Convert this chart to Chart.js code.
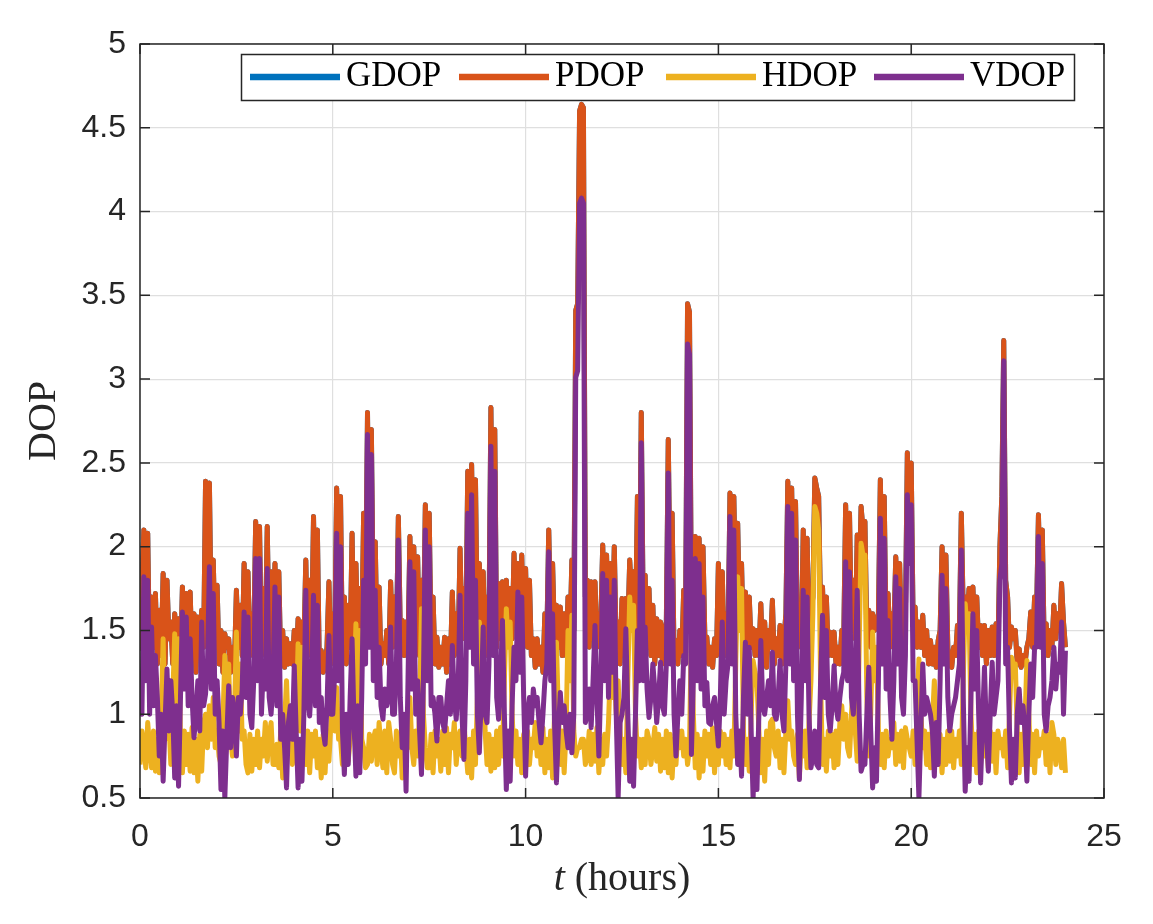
<!DOCTYPE html>
<html>
<head>
<meta charset="utf-8">
<script src="https://cdn.jsdelivr.net/npm/chart.js@4/dist/chart.umd.min.js"></script>
<style>
html,body{margin:0;padding:0;background:#fff;}
canvas{display:block;}
</style>
</head>
<body>
<canvas id="c" width="1153" height="924"></canvas>
<script>
// ---------- data ----------
const hours = [
0,0.05,0.1,0.15,0.2,0.25,0.3,0.35,0.4,0.45,0.5,0.55,0.6,0.65,0.7,0.75,0.8,0.85,0.9,0.95,
1,1.05,1.1,1.15,1.2,1.25,1.3,1.35,1.4,1.45,1.5,1.55,1.6,1.65,1.7,1.75,1.8,1.85,1.9,1.95,
2,2.05,2.1,2.15,2.2,2.25,2.3,2.35,2.4,2.45,2.5,2.55,2.6,2.65,2.7,2.75,2.8,2.85,2.9,2.95,
3,3.05,3.1,3.15,3.2,3.25,3.3,3.35,3.4,3.45,3.5,3.55,3.6,3.65,3.7,3.75,3.8,3.85,3.9,3.95,
4,4.05,4.1,4.15,4.2,4.25,4.3,4.35,4.4,4.45,4.5,4.55,4.6,4.65,4.7,4.75,4.8,4.85,4.9,4.95,
5,5.05,5.1,5.15,5.2,5.25,5.3,5.35,5.4,5.45,5.5,5.55,5.6,5.65,5.7,5.75,5.8,5.85,5.9,5.95,
6,6.05,6.1,6.15,6.2,6.25,6.3,6.35,6.4,6.45,6.5,6.55,6.6,6.65,6.7,6.75,6.8,6.85,6.9,6.95,
7,7.05,7.1,7.15,7.2,7.25,7.3,7.35,7.4,7.45,7.5,7.55,7.6,7.65,7.7,7.75,7.8,7.85,7.9,7.95,
8,8.05,8.1,8.15,8.2,8.25,8.3,8.35,8.4,8.45,8.5,8.55,8.6,8.65,8.7,8.75,8.8,8.85,8.9,8.95,
9,9.05,9.1,9.15,9.2,9.25,9.3,9.35,9.4,9.45,9.5,9.55,9.6,9.65,9.7,9.75,9.8,9.85,9.9,9.95,
10,10.05,10.1,10.15,10.2,10.25,10.3,10.35,10.4,10.45,10.5,10.55,10.6,10.65,10.7,10.75,10.8,10.85,10.9,10.95,
11,11.05,11.1,11.15,11.2,11.25,11.3,11.35,11.4,11.45,11.5,11.55,11.6,11.65,11.7,11.75,11.8,11.85,11.9,11.95,
12,12.05,12.1,12.15,12.2,12.25,12.3,12.35,12.4,12.45,12.5,12.55,12.6,12.65,12.7,12.75,12.8,12.85,12.9,12.95,
13,13.05,13.1,13.15,13.2,13.25,13.3,13.35,13.4,13.45,13.5,13.55,13.6,13.65,13.7,13.75,13.8,13.85,13.9,13.95,
14,14.05,14.1,14.15,14.2,14.25,14.3,14.35,14.4,14.45,14.5,14.55,14.6,14.65,14.7,14.75,14.8,14.85,14.9,14.95,
15,15.05,15.1,15.15,15.2,15.25,15.3,15.35,15.4,15.45,15.5,15.55,15.6,15.65,15.7,15.75,15.8,15.85,15.9,15.95,
16,16.05,16.1,16.15,16.2,16.25,16.3,16.35,16.4,16.45,16.5,16.55,16.6,16.65,16.7,16.75,16.8,16.85,16.9,16.95,
17,17.05,17.1,17.15,17.2,17.25,17.3,17.35,17.4,17.45,17.5,17.55,17.6,17.65,17.7,17.75,17.8,17.85,17.9,17.95,
18,18.05,18.1,18.15,18.2,18.25,18.3,18.35,18.4,18.45,18.5,18.55,18.6,18.65,18.7,18.75,18.8,18.85,18.9,18.95,
19,19.05,19.1,19.15,19.2,19.25,19.3,19.35,19.4,19.45,19.5,19.55,19.6,19.65,19.7,19.75,19.8,19.85,19.9,19.95,
20,20.05,20.1,20.15,20.2,20.25,20.3,20.35,20.4,20.45,20.5,20.55,20.6,20.65,20.7,20.75,20.8,20.85,20.9,20.95,
21,21.05,21.1,21.15,21.2,21.25,21.3,21.35,21.4,21.45,21.5,21.55,21.6,21.65,21.7,21.75,21.8,21.85,21.9,21.95,
22,22.05,22.1,22.15,22.2,22.25,22.3,22.35,22.4,22.45,22.5,22.55,22.6,22.65,22.7,22.75,22.8,22.85,22.9,22.95,
23,23.05,23.1,23.15,23.2,23.25,23.3,23.35,23.4,23.45,23.5,23.55,23.6,23.65,23.7,23.75,23.8,23.85,23.9,23.95,
24
];

const pdop = [
1.38,1.75,2.10,1.45,2.08,1.30,1.70,1.40,1.72,1.30,1.62,1.35,1.84,1.30,1.80,1.45,1.55,1.30,1.60,1.35,
1.57,1.30,1.76,1.35,1.72,1.28,1.73,1.35,1.60,1.25,1.58,1.35,1.62,1.40,2.39,1.55,2.38,1.50,1.92,1.40,
1.77,1.30,1.50,1.25,1.48,1.40,1.45,1.25,1.40,1.30,1.74,1.40,1.65,1.35,1.90,1.40,1.85,1.35,1.60,1.45,
2.15,1.50,2.12,1.35,1.75,1.45,2.12,1.40,1.85,1.35,1.90,1.40,1.85,1.30,1.50,1.28,1.45,1.30,1.42,1.30,
1.50,1.30,1.57,1.30,1.55,1.40,1.92,1.35,1.80,1.45,2.18,1.50,2.10,1.30,1.38,1.25,1.30,1.40,1.79,1.30,
1.60,1.45,2.35,1.60,2.30,1.35,1.70,1.30,1.65,1.40,2.08,1.35,1.90,1.40,1.75,1.45,2.20,1.60,2.80,1.70,
2.70,1.60,2.03,1.40,1.76,1.30,1.42,1.35,1.50,1.30,1.79,1.40,1.70,1.45,2.18,1.50,1.56,1.35,1.55,1.40,
2.06,1.50,2.00,1.40,1.94,1.35,1.80,1.45,2.25,1.55,2.20,1.40,1.70,1.30,1.46,1.28,1.40,1.30,1.46,1.25,
1.45,1.30,1.73,1.35,1.60,1.40,1.99,1.45,1.75,1.50,2.45,1.70,2.49,1.65,2.40,1.45,1.90,1.50,1.85,1.35,
1.70,1.55,2.83,1.70,2.70,1.40,1.78,1.45,1.79,1.40,1.80,1.55,1.75,1.45,1.96,1.55,1.90,1.50,1.95,1.45,
1.87,1.40,1.80,1.35,1.45,1.28,1.45,1.30,1.40,1.25,1.60,1.45,2.10,1.55,1.90,1.45,1.65,1.40,1.64,1.35,
1.60,1.35,1.70,1.45,1.92,1.50,3.41,3.45,4.60,4.64,4.62,1.70,1.80,1.40,1.79,1.45,1.79,1.40,1.60,1.55,
2.01,1.50,1.95,1.45,1.90,1.50,2.00,1.40,1.55,1.30,1.69,1.35,1.69,1.50,1.92,1.70,1.85,1.50,2.30,1.60,
2.80,1.60,1.83,1.40,1.75,1.35,1.65,1.30,1.57,1.35,1.55,1.30,1.50,1.55,2.64,1.70,2.20,1.35,1.44,1.30,
1.50,1.35,1.74,1.60,3.45,3.40,1.60,1.45,2.06,1.60,2.05,1.55,2.00,1.45,1.46,1.30,1.40,1.28,1.45,1.35,
1.90,1.40,1.85,1.35,1.60,1.45,2.32,1.60,2.30,1.70,2.14,1.60,1.90,1.40,1.73,1.35,1.70,1.40,1.51,1.35,
1.50,1.35,1.66,1.30,1.55,1.28,1.50,1.40,1.68,1.30,1.45,1.35,1.53,1.30,1.45,1.60,2.39,1.70,2.35,1.60,
2.27,1.50,1.50,1.40,2.10,1.50,2.05,1.45,1.60,1.70,2.41,2.35,2.30,1.60,1.76,1.40,1.70,1.35,1.49,1.35,
1.49,1.30,1.40,1.30,1.50,1.45,2.25,1.60,2.20,1.50,1.80,1.45,2.07,1.70,2.24,2.10,2.15,1.45,1.62,1.40,
1.60,1.50,1.55,1.60,2.40,1.70,2.30,1.45,1.72,1.40,1.60,1.50,1.94,1.55,1.90,1.45,1.50,1.60,2.56,2.10,
2.50,1.55,1.64,1.40,1.55,1.40,1.59,1.35,1.50,1.30,1.44,1.30,1.40,1.28,1.44,1.50,2.00,1.55,1.95,1.40,
1.30,1.28,1.40,1.35,1.53,1.50,2.20,1.60,1.70,1.55,1.75,1.50,1.76,1.45,1.70,1.40,1.53,1.35,1.53,1.30,
1.50,1.35,1.52,1.35,1.54,1.40,2.00,2.30,3.23,1.80,1.70,1.40,1.52,1.45,1.50,1.30,1.39,1.28,1.35,1.30,
1.40,1.45,1.61,1.40,1.70,1.60,2.19,1.70,2.10,1.40,1.54,1.35,1.50,1.40,1.65,1.45,1.60,1.50,1.78,1.55,
1.40
];

// GDOP coincides with PDOP in the picture (it is fully hidden beneath it)
const gdop = pdop;

const hdop = [
0.70,0.90,0.82,0.68,0.95,0.80,0.68,0.90,0.66,0.85,0.65,0.95,1.45,0.85,1.20,0.95,0.70,1.10,1.48,0.80,
1.45,0.85,0.65,0.90,0.70,0.88,0.66,0.92,0.65,0.85,0.60,0.88,0.66,0.95,1.00,0.80,1.05,0.85,1.10,0.80,
0.90,0.75,0.70,0.95,1.35,0.95,1.30,0.85,0.75,1.00,1.49,0.90,1.30,0.85,0.90,0.70,0.65,0.88,0.66,0.85,
0.70,0.90,0.68,0.85,0.75,0.95,0.72,0.88,0.95,0.70,0.70,0.82,0.68,0.90,0.62,0.95,1.20,0.85,1.00,0.70,
0.80,0.95,1.42,0.90,1.40,0.85,0.70,0.90,0.65,0.88,0.75,0.90,0.68,0.85,0.62,0.88,0.65,0.90,0.72,0.95,
1.10,0.90,1.16,0.85,0.85,0.70,0.70,0.90,0.72,0.85,0.90,1.10,1.54,1.00,1.50,0.85,0.80,0.68,0.70,0.88,
0.72,0.85,0.90,0.70,0.95,0.80,0.68,0.90,0.65,0.95,0.85,0.70,0.65,0.90,0.75,0.88,0.62,0.85,0.95,0.80,
1.10,0.80,0.70,0.90,0.75,1.00,1.63,1.00,0.80,0.68,0.68,0.88,0.65,0.90,0.75,0.85,0.66,0.90,0.70,0.92,
0.65,0.88,0.80,0.95,0.70,0.85,0.90,0.75,0.95,0.80,0.65,0.85,0.62,0.90,0.70,1.10,1.55,1.20,1.45,0.90,
0.70,0.88,0.66,0.85,0.68,0.90,0.70,0.92,0.75,1.20,1.63,1.40,1.55,1.00,0.75,0.90,0.70,0.85,0.65,0.88,
0.68,0.90,0.70,0.85,0.80,0.95,0.75,0.88,0.70,0.92,0.65,0.85,0.68,0.90,0.62,1.00,1.43,1.00,0.70,0.90,
0.65,0.90,1.50,1.20,1.59,0.90,0.75,0.80,0.80,0.85,0.85,0.70,0.75,0.90,0.70,0.88,0.72,0.92,0.65,0.85,
0.70,0.88,0.75,0.95,1.28,1.10,1.27,1.00,1.20,0.90,0.70,0.85,0.65,1.20,1.70,1.50,1.65,1.00,0.75,0.85,
0.68,0.85,0.70,0.90,0.85,0.70,0.80,0.92,0.72,0.88,0.66,0.85,0.68,0.90,0.65,0.88,0.62,0.85,0.70,0.90,
0.80,0.90,0.75,0.85,0.70,0.80,1.49,1.00,0.68,0.88,0.62,0.85,0.66,0.90,0.75,0.88,0.70,0.92,0.65,0.85,
0.70,0.90,0.75,0.88,0.70,0.85,0.68,0.90,0.75,1.30,1.82,1.50,1.75,0.90,0.70,0.85,0.66,1.00,1.32,1.25,
1.20,0.90,0.65,0.85,0.60,0.90,0.70,0.95,0.97,0.80,0.75,0.90,0.68,0.85,0.65,0.90,1.08,0.85,0.90,0.75,
0.70,0.88,0.62,0.85,0.75,0.90,0.68,0.95,1.20,1.60,2.24,2.20,2.10,1.20,0.70,0.85,0.66,0.90,0.75,0.88,
0.68,0.90,0.70,0.95,1.05,0.85,1.00,0.80,0.75,1.00,1.21,0.90,0.72,1.40,2.02,1.95,1.95,1.10,0.75,1.00,
1.49,1.20,1.40,0.90,0.70,0.88,0.68,0.90,0.75,0.85,0.80,0.95,0.70,0.88,0.72,0.90,0.68,0.92,0.85,0.80,
0.75,0.90,0.70,1.00,1.33,1.00,0.80,0.90,0.70,0.88,0.68,0.95,1.20,0.90,0.70,0.88,0.65,0.85,0.70,0.90,
0.72,0.90,0.68,0.85,0.75,0.90,0.70,1.20,1.66,1.50,1.60,1.00,0.70,0.88,0.65,0.90,0.70,0.92,0.75,0.88,
0.68,0.90,0.72,0.88,0.65,0.90,0.80,0.85,0.75,0.90,0.68,1.00,1.34,1.30,1.30,0.90,0.65,0.88,0.70,0.95,
1.32,1.00,0.70,0.88,0.65,0.90,0.75,0.85,0.80,0.90,0.70,0.88,0.65,0.95,0.88,0.70,0.85,0.80,0.68,0.85,
0.65
];

const vdop = [
1.15,1.00,1.82,1.20,1.80,1.00,1.52,1.05,1.35,1.10,0.75,1.00,0.60,0.95,1.27,0.90,1.20,1.00,0.62,1.05,
0.57,1.10,1.61,1.15,1.58,1.05,1.45,1.10,0.86,1.00,1.20,0.90,1.55,1.05,1.12,1.30,1.88,1.15,1.72,1.00,
1.20,0.95,0.55,0.90,0.50,0.85,1.17,0.80,1.10,1.00,0.75,1.10,1.00,1.15,1.61,1.10,1.58,1.00,0.92,1.20,
1.93,1.20,1.93,1.00,1.30,1.15,1.87,1.10,1.00,1.20,1.76,1.05,1.70,0.85,1.00,0.80,0.56,0.95,1.05,0.85,
1.29,0.90,0.56,0.85,0.60,1.00,1.74,1.10,0.99,1.20,1.71,1.05,1.65,0.95,1.10,0.90,0.82,1.05,1.47,1.00,
1.00,1.25,2.08,1.20,2.00,0.90,0.64,1.00,0.70,1.10,1.45,0.95,0.63,1.05,0.65,1.10,1.80,1.30,2.67,1.40,
2.55,1.20,1.74,1.10,1.40,1.05,0.97,1.15,1.05,1.10,1.52,1.00,1.00,1.30,2.04,1.10,0.80,1.00,0.54,1.20,
1.91,1.15,1.85,1.00,1.20,0.90,0.64,1.20,2.10,1.20,2.00,1.05,1.10,1.00,0.84,1.10,1.10,0.95,0.90,1.05,
1.20,1.00,1.41,1.10,0.97,1.15,1.71,1.00,0.73,1.20,2.20,1.40,2.31,1.30,1.80,1.00,0.77,1.10,1.52,1.00,
0.95,1.30,2.60,1.35,2.45,1.10,0.97,1.20,1.56,1.00,0.55,0.90,0.60,1.05,1.40,1.20,1.73,1.25,1.70,1.10,
0.63,1.00,1.10,0.95,1.15,1.05,1.10,0.95,0.83,1.00,1.20,1.30,1.97,1.20,1.60,0.95,0.59,0.90,1.13,0.95,
1.05,0.90,0.80,1.00,0.77,1.00,3.01,3.05,4.05,4.08,4.05,0.95,1.00,1.15,0.92,1.20,1.53,1.10,0.75,1.20,
1.84,1.20,1.80,1.10,1.70,1.25,1.80,1.00,0.50,0.95,1.00,1.10,1.51,1.00,0.60,0.85,0.57,1.00,1.50,1.20,
2.62,1.20,1.52,1.15,0.98,1.10,1.30,1.15,0.95,1.10,1.31,1.05,1.00,1.30,2.44,1.30,1.80,1.00,0.75,1.00,
1.20,1.00,1.35,1.30,3.21,3.15,0.76,1.20,1.93,1.20,1.90,1.15,1.70,1.05,1.19,0.95,0.94,1.05,1.10,0.95,
0.81,1.10,1.55,1.00,1.20,1.30,2.18,1.30,2.10,1.00,0.70,0.90,0.63,1.10,1.43,1.00,1.40,0.90,0.50,0.85,
0.55,1.00,1.44,1.05,1.00,1.10,1.20,1.05,1.37,1.00,0.97,1.10,1.32,1.00,0.90,1.30,2.24,1.30,2.20,1.20,
2.04,1.00,0.61,1.10,1.74,1.20,1.70,1.00,0.68,0.75,0.90,0.70,0.68,1.20,1.59,1.10,1.50,1.00,0.90,1.05,
1.29,1.05,0.97,1.10,1.20,1.25,1.91,1.20,1.85,1.10,1.00,1.30,1.74,1.00,0.66,0.70,0.70,1.00,1.28,0.90,
0.56,0.80,0.60,1.20,2.17,1.30,2.05,1.15,1.56,1.10,0.85,1.20,1.82,1.30,1.75,1.10,1.00,1.35,2.31,1.90,
2.25,1.20,1.20,0.85,0.50,0.90,1.30,1.00,1.10,1.05,1.00,0.90,0.63,0.95,0.70,1.20,1.83,1.30,1.75,1.10,
0.90,1.00,1.05,1.10,1.20,1.30,1.98,1.10,0.54,0.80,0.60,1.10,1.60,1.15,1.50,1.00,0.59,0.95,1.28,0.90,
0.66,1.00,1.31,1.00,1.10,1.20,1.80,1.90,3.11,1.30,1.40,0.90,0.59,0.85,0.62,1.00,1.15,0.95,1.05,0.90,
0.60,1.00,1.30,1.10,1.40,1.40,2.06,1.40,1.90,1.00,0.90,1.05,1.10,1.20,1.40,1.15,1.30,1.25,1.55,1.00,
1.38
];

const seriesNames = ['GDOP', 'PDOP', 'HDOP', 'VDOP'];
const xTickValues = [0, 5, 10, 15, 20, 25];
const yTickValues = [0.5, 1, 1.5, 2, 2.5, 3, 3.5, 4, 4.5, 5];

// ---------- styling ----------
const seriesColors = ['#0072BD', '#D95319', '#EDB120', '#7E2F8E'];
const SANS = '"Liberation Sans", Arial, Helvetica, sans-serif';
const SERIF = '"Liberation Serif", "Times New Roman", serif';
const INK = '#262626';
const GRID = '#dfdfdf';

const seriesValues = [gdop, pdop, hdop, vdop];
const datasets = seriesNames.map((name, i) => ({
  label: name,
  data: hours.map((h, k) => ({ x: h, y: seriesValues[i][k] })),
  borderColor: seriesColors[i],
  backgroundColor: seriesColors[i],
  borderWidth: 5,
  borderJoinStyle: 'round',
  borderCapStyle: 'butt',
  pointRadius: 0,
  pointHoverRadius: 0,
  tension: 0,
  fill: false,
  clip: 0,
  order: seriesNames.length - 1 - i
}));

const decorPlugin = {
  id: 'decor',
  afterDraw(chart) {
    const { ctx, chartArea: ca, scales } = chart;
    const xs = scales.x, ys = scales.y;
    ctx.save();
    // frame
    ctx.strokeStyle = INK;
    ctx.lineWidth = 1.5;
    ctx.strokeRect(ca.left, ca.top, ca.right - ca.left, ca.bottom - ca.top);
    // inward ticks on all four sides
    const tl = 10;
    ctx.beginPath();
    xTickValues.forEach(v => {
      const px = xs.getPixelForValue(v);
      ctx.moveTo(px, ca.bottom); ctx.lineTo(px, ca.bottom - tl);
      ctx.moveTo(px, ca.top); ctx.lineTo(px, ca.top + tl);
    });
    yTickValues.forEach(v => {
      const py = ys.getPixelForValue(v);
      ctx.moveTo(ca.left, py); ctx.lineTo(ca.left + tl, py);
      ctx.moveTo(ca.right, py); ctx.lineTo(ca.right - tl, py);
    });
    ctx.stroke();

    // y axis title
    ctx.fillStyle = INK;
    ctx.save();
    ctx.translate(55, (ca.top + ca.bottom) / 2);
    ctx.rotate(-Math.PI / 2);
    ctx.font = '40px ' + SERIF;
    ctx.textAlign = 'center';
    ctx.textBaseline = 'alphabetic';
    ctx.fillText('DOP', 0, 0);
    ctx.restore();

    // x axis title: italic t + (hours)
    const f1 = 'italic 40px ' + SERIF, f2 = '40px ' + SERIF;
    ctx.font = f1; const w1 = ctx.measureText('t').width;
    ctx.font = f2; const w2 = ctx.measureText(' (hours)').width;
    const cx = (ca.left + ca.right) / 2;
    const sx = cx - (w1 + w2) / 2;
    ctx.textAlign = 'left';
    ctx.textBaseline = 'alphabetic';
    ctx.font = f1; ctx.fillText('t', sx, 890);
    ctx.font = f2; ctx.fillText(' (hours)', sx + w1, 890);

    // legend box
    const bx = 241.5, by = 54.5, bw = 833, bh = 46;
    ctx.fillStyle = '#ffffff';
    ctx.fillRect(bx, by, bw, bh);
    ctx.strokeStyle = INK;
    ctx.lineWidth = 1.5;
    ctx.strokeRect(bx, by, bw, bh);
    const starts = [250, 459, 666, 874];
    ctx.font = '35px ' + SERIF;
    seriesNames.forEach((name, i) => {
      const x0 = starts[i];
      ctx.strokeStyle = seriesColors[i];
      ctx.lineWidth = 6.5;
      ctx.beginPath();
      ctx.moveTo(x0, 77); ctx.lineTo(x0 + 90, 77);
      ctx.stroke();
      ctx.fillStyle = '#000000';
      ctx.fillText(name, x0 + 96, 86);
    });
    ctx.restore();
  }
};

new Chart(document.getElementById('c'), {
  type: 'line',
  data: { datasets },
  options: {
    responsive: false,
    devicePixelRatio: 1,
    animation: false,
    events: [],
    layout: { padding: { top: 44, right: 49, left: 0, bottom: 0 } },
    plugins: { legend: { display: false }, tooltip: { enabled: false } },
    scales: {
      x: {
        type: 'linear',
        min: 0, max: 25,
        afterBuildTicks: s => { s.ticks = xTickValues.map(v => ({ value: v })); },
        afterFit: s => { s.height = 126; },
        ticks: {
          color: INK, font: { family: SANS, size: 32 }, padding: 20,
          maxRotation: 0, autoSkip: false,
          callback: v => String(v)
        },
        grid: { color: GRID, lineWidth: 1.2, drawTicks: false },
        border: { display: false }
      },
      y: {
        type: 'linear',
        min: 0.5, max: 5,
        afterBuildTicks: s => { s.ticks = yTickValues.map(v => ({ value: v })); },
        afterFit: s => { s.width = 140; },
        ticks: {
          color: INK, font: { family: SANS, size: 32 }, padding: 14,
          autoSkip: false,
          callback: v => String(v)
        },
        grid: { color: GRID, lineWidth: 1.2, drawTicks: false },
        border: { display: false }
      }
    }
  },
  plugins: [decorPlugin]
});
</script>
</body>
</html>
